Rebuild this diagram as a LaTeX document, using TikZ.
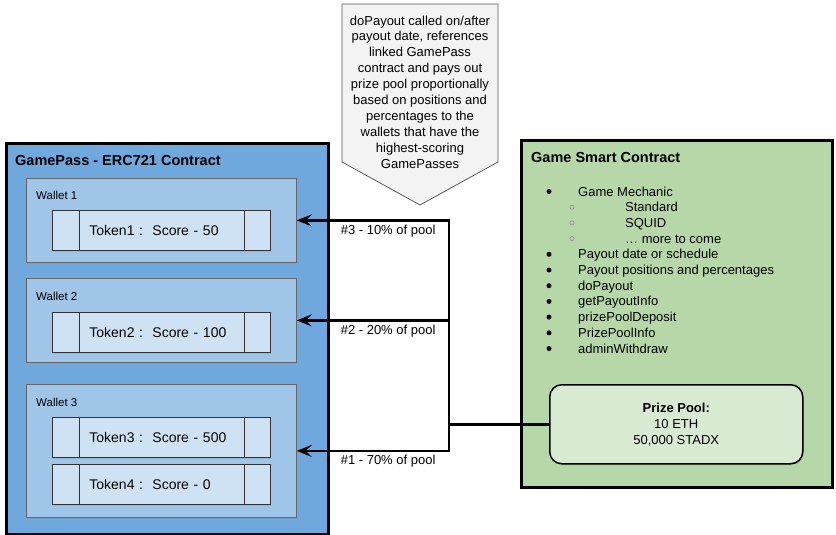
\documentclass[tikz,border=0pt]{standalone}
\usepackage{fontspec}
\setmainfont{Liberation Sans}
\usetikzlibrary{positioning}
\usetikzlibrary{calc}
\usetikzlibrary{arrows.meta}
\usetikzlibrary{shadows}
\definecolor{gpblue}{HTML}{6FA8DC}
\definecolor{walletblue}{HTML}{9FC5E8}
\definecolor{tokenblue}{HTML}{CFE2F3}
\definecolor{gcgreen}{HTML}{B6D7A8}
\definecolor{poolgreen}{HTML}{D9EAD3}
\definecolor{notegray}{HTML}{F3F3F3}
\newcommand{\bodyfont}{\fontsize{13}{15.9}\selectfont}
\newcommand{\titlefont}{\fontsize{14.5}{17}\selectfont\bfseries}
\newcommand{\walletfont}{\fontsize{11.5}{14}\selectfont}
\newcommand{\tokenfont}{\fontsize{14}{17}\selectfont}

\begin{document}
\begin{tikzpicture}
    [x=1pt, y=-1pt,
    contract/.style={draw=black, line width=3pt, anchor=north west, inner sep=0pt},
    wallet/.style={draw=black!60, line width=0.8pt, fill=walletblue, anchor=north west,
        minimum width=270, inner sep=0pt, drop shadow={opacity=0.2, shadow xshift=0.8pt, shadow yshift=-1.2pt}},
    token/.style={draw=black!80, line width=0.8pt, fill=tokenblue, anchor=north west,
        minimum height=40, text width=144pt, inner xsep=37pt, inner ysep=0pt, align=left, font=\tokenfont,
        drop shadow={opacity=0.2, shadow xshift=0.8pt, shadow yshift=-1.2pt},
        path picture={
            \draw[black!80, line width=1.2pt] ([xshift=27pt]path picture bounding box.north west) -- ([xshift=27pt]path picture bounding box.south west);
            \draw[black!80, line width=1.2pt] ([xshift=-26pt]path picture bounding box.north east) -- ([xshift=-26pt]path picture bounding box.south east);}},
    pool/.style={draw=black, line width=1.5pt, fill=poolgreen, rounded corners=12pt, anchor=north west,
        minimum width=253, minimum height=79, align=center, font=\bodyfont,
        drop shadow={opacity=0.25, shadow xshift=1pt, shadow yshift=-1.5pt}},
    heading/.style={anchor=base west, inner sep=0pt, font=\titlefont},
    walletlabel/.style={anchor=base west, inner sep=0pt, font=\walletfont},
    item/.style={anchor=base west, inner sep=0pt, font=\bodyfont},
    payout/.style={-{Stealth[length=15pt, width=12pt, inset=6pt]}, line width=2.8pt},
    share/.style={below, yshift=-3pt, inner sep=0pt, font=\bodyfont},
    notebox/.style={draw=black!65, line width=0.8pt, fill=notegray}]
     \useasboundingbox (0,0) rectangle (836,535);
     % GamePass side
     \node[contract, fill=gpblue, minimum width=322, minimum height=391] (gp) at (5,142) {};
     \node[heading] (gptitle) at (15,165) {GamePass - ERC721 Contract};
     \node[wallet, minimum height=84]  (w1) at (26,178) {};
     \node[wallet, minimum height=84]  (w2) at (26,278) {};
     \node[wallet, minimum height=133] (w3) at (26,384) {};
     \node[walletlabel] (w1l) at (36,199) {Wallet 1};
     \node[walletlabel] (w2l) at (36,300) {Wallet 2};
     \node[walletlabel] (w3l) at (36,406) {Wallet 3};
     \node[token] (tk1) at (52,210) {Token1 :\ \ Score - 50};
     \node[token] (tk2) at (52,312) {Token2 :\ \ Score - 100};
     \node[token] (tk3) at (52,417) {Token3 :\ \ Score - 500};
     \node[token] (tk4) at (52,464) {Token4 :\ \ Score - 0};
     % game contract side
     \node[contract, fill=gcgreen, minimum width=311, minimum height=347] (gc) at (520,139) {};
     \node[heading] (gctitle) at (531,162) {Game Smart Contract};
     \foreach \txt/\k in {Game Mechanic/0, Payout date or schedule/4, Payout positions and percentages/5,
                          doPayout/6, getPayoutInfo/7, prizePoolDeposit/8, PrizePoolInfo/9, adminWithdraw/10} {
         \fill (549, 191.5+15.7*\k) circle (2.5);
         \node[item] (it\k) at (578, 196+15.7*\k) {\txt};
     }
     \foreach \txt/\k in {Standard/1, SQUID/2, … more to come/3} {
         \draw[black!45, line width=0.6pt] (572, 191.5+15.7*\k) circle (2.1);
         \node[item] (it\k) at (625, 196+15.7*\k) {\txt};
     }
     \node[pool] (pp) at (549,384) {\textbf{Prize Pool:}\\10 ETH\\50,000 STADX};
     % callout
     \draw[notebox] (342,4) -- (498,4) -- (498,162) -- (420,205) -- (342,162) -- cycle;
     \node[align=center, inner sep=0pt, font=\bodyfont] (note) at (420,92)
         {doPayout called on/after\\payout date, references\\linked GamePass\\contract and pays out\\prize pool proportionally\\based on positions and\\percentages to the\\wallets that have the\\highest-scoring\\GamePasses};
     % payouts
     \coordinate (hub) at (449,424);
     \coordinate (j3) at (w1.east -| hub);
     \coordinate (j2) at (w2.east -| hub);
     \coordinate (j1) at (w3.east -| hub);
     \draw[line width=2.8pt] (pp.west) -- (pp.west -| hub);
     \draw[payout] (hub) -- (j3) -- node[share, pos=0.4] {\#3 - 10\% of pool} (w1.east);
     \draw[payout] (hub) -- (j2) -- node[share, pos=0.4] {\#2 - 20\% of pool} (w2.east);
     \draw[payout] (hub) -- (j1) -- node[share, pos=0.4] {\#1 - 70\% of pool} (w3.east);
\end{tikzpicture}
\end{document}
